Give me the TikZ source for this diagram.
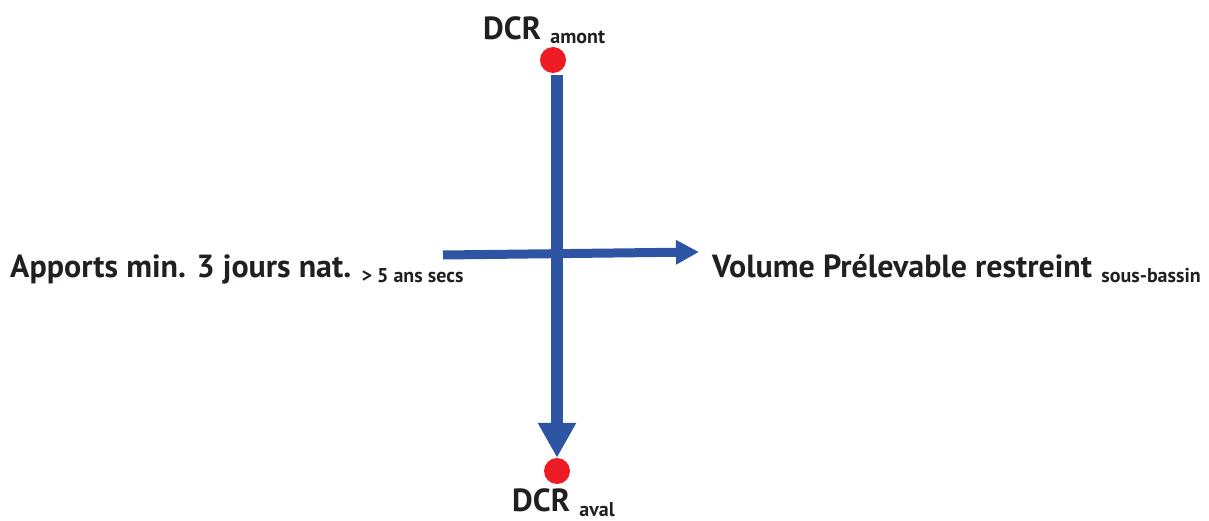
\documentclass[tikz,border=0pt]{standalone}
\usepackage{fontspec}
\setmainfont{PT Sans}
\usetikzlibrary{positioning,arrows.meta}
\definecolor{flowblue}{RGB}{46,84,164}
\definecolor{dotred}{RGB}{237,28,36}
\definecolor{labelgrey}{RGB}{35,31,32}
\tikzset{
  station/.style={circle, fill=dotred, minimum size=26pt, inner sep=0pt},
  bigtxt/.style={font=\bfseries\fontsize{32}{32}\selectfont, text=labelgrey, inner sep=0pt},
  subtxt/.style={font=\bfseries\fontsize{20}{20}\selectfont, text=labelgrey, inner sep=0pt},
  mainflow/.style={flowblue, line width=12pt, -{Triangle[length=35pt,width=36pt]}},
  sideflow/.style={flowblue, line width=9pt, -{Triangle[length=23pt,width=23pt]}}
}
\begin{document}
\begin{tikzpicture}[x=1pt, y=-1pt]
  \useasboundingbox (0,0) rectangle (1209,521);
  % stations
  \node[station] (amont) at (553,60) {};
  \node[station] (aval) at (557,471) {};
  \node[bigtxt, anchor=base west] (dcrup) at (483,40) {DCR};
  \node[subtxt, right=9pt of dcrup.base east, anchor=base west, yshift=-4pt] (dcrupsub) {amont};
  \node[bigtxt, anchor=base west] (dcrdown) at (512,511) {DCR};
  \node[subtxt, right=9pt of dcrdown.base east, anchor=base west, yshift=-5pt] (dcrdownsub) {aval};
  % side labels
  \node[bigtxt, anchor=base west] (apports) at (10,277) {Apports min. 3 jours nat.};
  \node[subtxt, right=10pt of apports.base east, anchor=base west, yshift=-5pt] (apportssub) {> 5 ans secs};
  \node[bigtxt, anchor=base west] (volume) at (712,277) {Volume Prélevable restreint};
  \node[subtxt, right=9pt of volume.base east, anchor=base west, yshift=-5pt] (volumesub) {sous-bassin};
  % flows
  \coordinate (hstart) at (443,255);
  \coordinate (hend) at (699,252);
  \draw[sideflow] (hstart) -- (hend);
  \draw[mainflow, shorten <=2pt] (amont.south -| aval.north) -- (aval.north);
\end{tikzpicture}
\end{document}
